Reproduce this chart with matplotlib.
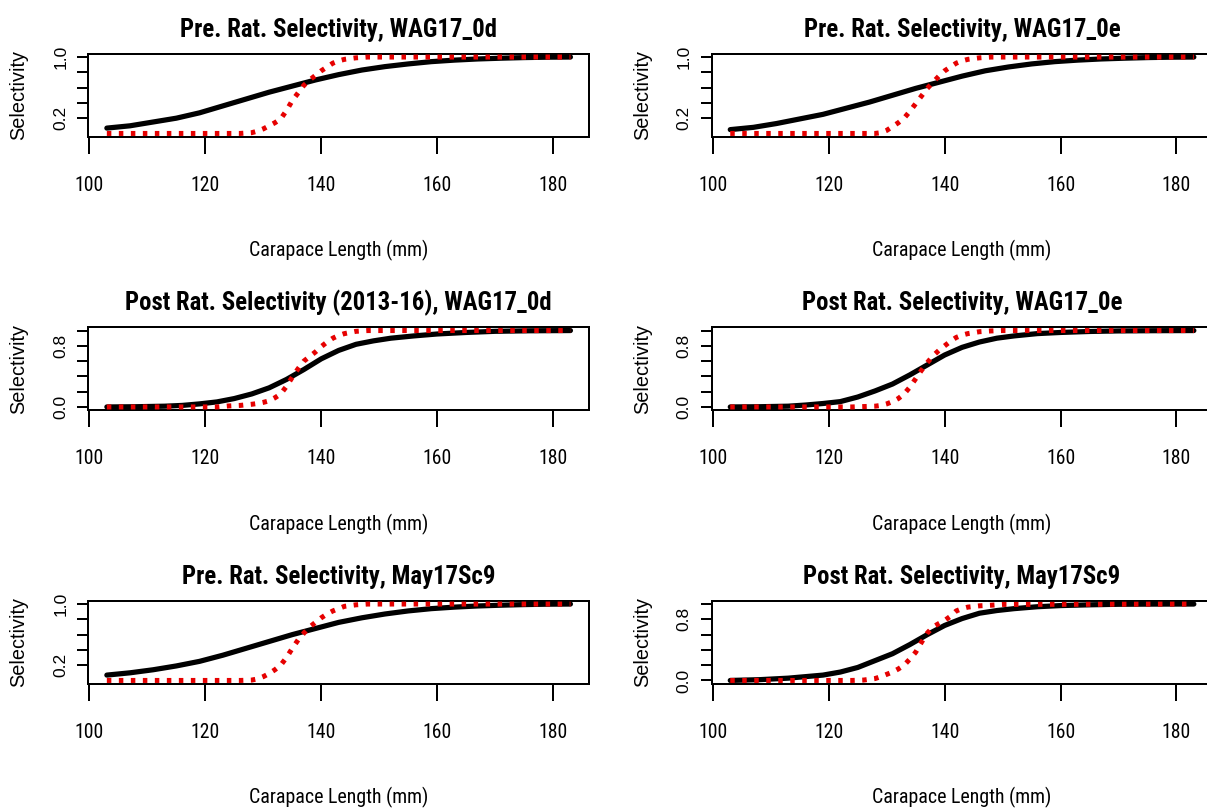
import os
import matplotlib
matplotlib.use("Agg")
import matplotlib.pyplot as plt
from matplotlib import font_manager as fm

# ---------------- data ----------------
titles = ["Pre. Rat. Selectivity, WAG17_0d", "Pre. Rat. Selectivity, WAG17_0e",
          "Post Rat. Selectivity (2013-16), WAG17_0d", "Post Rat. Selectivity, WAG17_0e",
          "Pre. Rat. Selectivity, May17Sc9", "Post Rat. Selectivity, May17Sc9"]
panel_kind = ["pre", "pre", "post", "post", "pre", "post"]
x_label = "Carapace Length (mm)"
y_label = "Selectivity"
x_ticks = [100, 120, 140, 160, 180]
pre_y_ticks = [0.2, 0.4, 0.6, 0.8, 1.0]
pre_y_labels = ["0.2", "", "", "", "1.0"]
post_y_ticks = [0.0, 0.2, 0.4, 0.6, 0.8, 1.0]
post_y_labels = ["0.0", "", "", "", "0.8", ""]

# black (solid) curves
cl_pre = [103, 107, 111, 115, 119, 123, 127, 131, 135, 139, 143, 147, 151, 155,
          159, 163, 167, 171, 175, 179, 183]
sel_pre_wag0d = [0.07, 0.10, 0.15, 0.20, 0.27, 0.36, 0.45, 0.54, 0.62, 0.70, 0.77,
                 0.83, 0.875, 0.91, 0.94, 0.96, 0.975, 0.985, 0.993, 0.998, 1.0]
sel_pre_wag0e = [0.05, 0.08, 0.13, 0.19, 0.25, 0.33, 0.41, 0.50, 0.59, 0.67, 0.75,
                 0.82, 0.87, 0.91, 0.94, 0.96, 0.975, 0.985, 0.993, 0.998, 1.0]
sel_pre_may = [0.07, 0.10, 0.14, 0.19, 0.25, 0.33, 0.42, 0.51, 0.60, 0.68, 0.76,
               0.82, 0.87, 0.91, 0.94, 0.96, 0.975, 0.985, 0.993, 0.998, 1.0]

cl_post = [103, 108, 113, 116, 119, 122, 125, 128, 131, 134, 137, 140, 143, 146,
           149, 152, 156, 160, 165, 170, 176, 183]
sel_post_wag0d = [0.0, 0.003, 0.01, 0.02, 0.04, 0.066, 0.11, 0.17, 0.25, 0.36, 0.49,
                  0.63, 0.74, 0.82, 0.865, 0.90, 0.93, 0.955, 0.975, 0.99, 0.997, 1.0]
sel_post_wag0e = [0.0, 0.003, 0.01, 0.025, 0.045, 0.07, 0.13, 0.21, 0.30, 0.42, 0.55,
                  0.68, 0.78, 0.85, 0.90, 0.93, 0.96, 0.975, 0.988, 0.995, 0.998, 1.0]
sel_post_may = [0.0, 0.01, 0.03, 0.05, 0.07, 0.11, 0.17, 0.26, 0.35, 0.47, 0.60,
                0.72, 0.81, 0.88, 0.915, 0.94, 0.965, 0.98, 0.99, 0.997, 0.999, 1.0]

# red (dotted) curves
cl_red = [103, 122, 124, 126, 128, 129, 130, 131, 132, 133, 134, 135, 136, 137,
          138, 139, 140, 141, 142, 143, 144, 146, 148, 150, 183]
red_pre_wag0d = [0, 0, 0, 0, 0.01, 0.03, 0.06, 0.10, 0.14, 0.19, 0.30, 0.43, 0.53,
                 0.63, 0.70, 0.76, 0.82, 0.87, 0.92, 0.95, 0.97, 0.99, 1.0, 1.0, 1.0]
red_pre_wag0e = [0, 0, 0, 0, 0.0, 0.01, 0.04, 0.09, 0.14, 0.20, 0.29, 0.39, 0.49,
                 0.59, 0.67, 0.75, 0.82, 0.87, 0.92, 0.95, 0.97, 0.99, 1.0, 1.0, 1.0]
red_post_wag0d = [0, 0, 0.013, 0.02, 0.035, 0.045, 0.06, 0.08, 0.12, 0.17, 0.27, 0.39,
                  0.50, 0.60, 0.66, 0.72, 0.79, 0.85, 0.90, 0.935, 0.96, 0.99, 1.0, 1.0, 1.0]
red_post_wag0e = [0, 0, 0.0, 0.005, 0.01, 0.02, 0.04, 0.07, 0.11, 0.17, 0.26, 0.37,
                  0.48, 0.58, 0.67, 0.74, 0.80, 0.86, 0.91, 0.94, 0.96, 0.985, 0.995, 1.0, 1.0]
red_pre_may = [0, 0, 0, 0, 0.005, 0.02, 0.05, 0.09, 0.14, 0.20, 0.30, 0.42, 0.53,
               0.62, 0.70, 0.76, 0.82, 0.87, 0.91, 0.94, 0.97, 0.99, 1.0, 1.0, 1.0]
red_post_may = [0, 0, 0, 0.005, 0.025, 0.05, 0.08, 0.11, 0.15, 0.20, 0.28, 0.37, 0.50,
                0.62, 0.70, 0.745, 0.785, 0.84, 0.91, 0.94, 0.96, 0.977, 0.985, 0.995, 1.0]

panels = [
    (cl_pre, sel_pre_wag0d, red_pre_wag0d),
    (cl_pre, sel_pre_wag0e, red_pre_wag0e),
    (cl_post, sel_post_wag0d, red_post_wag0d),
    (cl_post, sel_post_wag0e, red_post_wag0e),
    (cl_pre, sel_pre_may, red_pre_may),
    (cl_post, sel_post_may, red_post_may),
]

# ---------------- fonts ----------------
WEIGHT_WORDS = ("light", "thin", "medium", "black", "heavy", "semibold",
                "extrabold", "italic", "oblique", "hairline")


def _norm(p):
    return os.path.basename(p).lower().replace(" ", "").replace("_", "").replace("-", "")


def find_narrow(bold):
    keys = ["liberationsansnarrow", "arialnarrow", "arialn", "robotocondensed",
            "notosanscondensed", "opensanscondensed", "dejavusanscondensed"]
    files = [f.fname for f in fm.fontManager.ttflist]
    for key in keys:
        for path in files:
            b = _norm(path)
            if not b.startswith(key):
                continue
            if "[" in b or any(w in b for w in WEIGHT_WORDS):
                continue
            rest = b[len(key):]
            if bold and "bold" in rest:
                return fm.FontProperties(fname=path)
            if not bold and "bold" not in rest:
                return fm.FontProperties(fname=path)
    return fm.FontProperties(family="Liberation Sans",
                             weight="bold" if bold else "normal")


fp_title = find_narrow(True)
fp_narrow = find_narrow(False)
fp_reg = fm.FontProperties(family="Liberation Sans")

# ---------------- layout ----------------
W, H = 1207, 811
DPI = 100
fig = plt.figure(figsize=(W / DPI, H / DPI), dpi=DPI)
px2pt = 72.0 / DPI
renderer = fig.canvas.get_renderer()


def sized(fp, sample, target_px):
    """Font size (pt) so that `sample` is target_px wide in this font."""
    probe = fp.copy()
    probe.set_size(10)
    t = fig.text(0, 0, sample, fontproperties=probe)
    w = t.get_window_extent(renderer).width
    t.remove()
    out = fp.copy()
    out.set_size(10 * target_px / w)
    return out


f_title = sized(fp_title, "Pre. Rat. Selectivity, WAG17_0d", 318)
f_xtick = sized(fp_narrow, "120", 29)
f_xlab = sized(fp_narrow, "Carapace Length (mm)", 178)
f_ylab = sized(fp_reg, "Selectivity", 90)
f_ytick = sized(fp_reg, "1.0", 24)

col_left = [88.3, 711.7]
box_w = 500.7
row_top = [54.0, 327.5, 601.0]
box_h = 82.5

for i, (title, kind, (xb, yb, yr)) in enumerate(zip(titles, panel_kind, panels)):
    r, c = divmod(i, 2)
    left = col_left[c] / W
    bottom = 1 - (row_top[r] + box_h) / H
    ax = fig.add_axes([left, bottom, box_w / W, box_h / H])

    ax.plot(xb, yb, color="black", lw=5.2 * px2pt, solid_capstyle="round",
            solid_joinstyle="round", zorder=2)
    ax.margins(x=0.04, y=0.04)
    ax.plot(cl_red, yr, color="#e60000", lw=5.0 * px2pt, dashes=(0.9, 1.5),
            dash_capstyle="butt", scalex=False, scaley=False, zorder=3)

    ax.set_xticks(x_ticks)
    ax.set_xticklabels([str(t) for t in x_ticks], fontproperties=f_xtick)
    if kind == "pre":
        ax.set_yticks(pre_y_ticks)
        ax.set_yticklabels(pre_y_labels, rotation=90, va="center",
                           fontproperties=f_ytick)
    else:
        ax.set_yticks(post_y_ticks)
        ax.set_yticklabels(post_y_labels, rotation=90, va="center",
                           fontproperties=f_ytick)

    ax.tick_params(axis="x", length=16.5 * px2pt, width=2 * px2pt,
                   pad=23 * px2pt, colors="black")
    ax.tick_params(axis="y", length=11 * px2pt, width=2 * px2pt,
                   pad=9 * px2pt, colors="black")
    for sp in ax.spines.values():
        sp.set_linewidth(2 * px2pt)
        sp.set_color("black")

    ax.set_title(title, fontproperties=f_title, pad=17 * px2pt)
    ax.set_xlabel(x_label, fontproperties=f_xlab)
    ax.xaxis.set_label_coords(0.5, -(240 - 136.5) / box_h)
    ax.set_ylabel(y_label, fontproperties=f_ylab)
    ax.yaxis.set_label_coords(-60 / box_w, 0.5)

fig.savefig("out.png", dpi=DPI)
